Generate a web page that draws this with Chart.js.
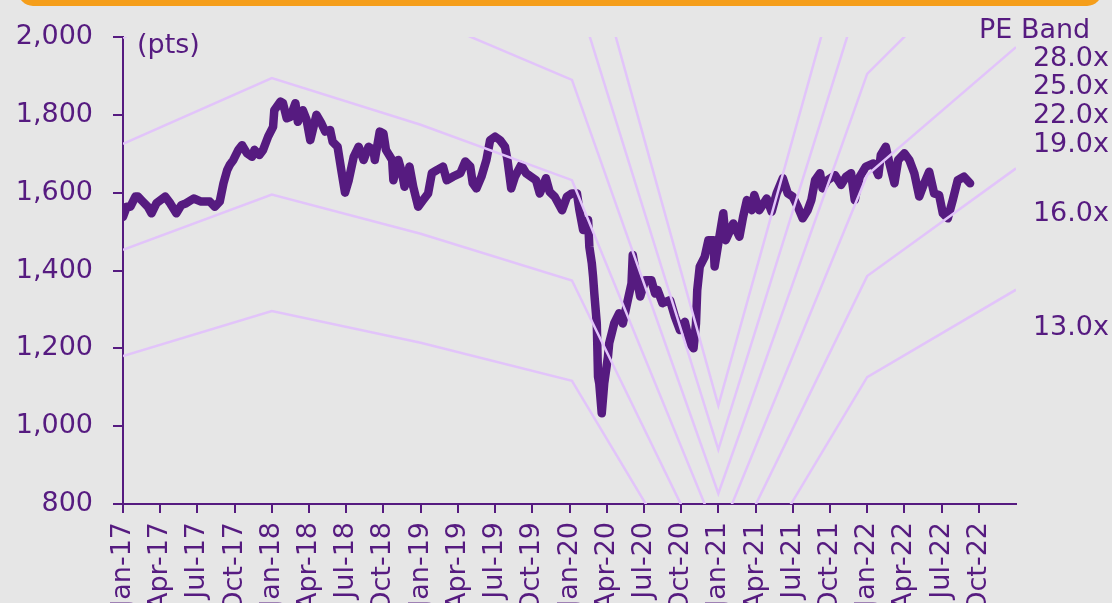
<!DOCTYPE html>
<html>
<head>
<meta charset="utf-8">
<script src="https://cdn.jsdelivr.net/npm/chart.js@4.4.1/dist/chart.umd.min.js"></script>
<style>
  html, body { margin:0; padding:0; background:#e6e6e6; overflow:hidden; }
  #wrap { position:relative; width:1112px; height:603px; overflow:hidden; background:#e6e6e6; }
  #topbar { position:absolute; left:18px; top:-24px; width:1084px; height:30px; background:#f59e1b; border-radius:16px; }
  #chart { position:absolute; left:0; top:0; }
</style>
</head>
<body>
<div id="wrap">
  <div id="topbar"></div>
  <canvas id="chart" width="1112" height="640"></canvas>
</div>
<script>
// x positions are months since Jan-17
const quarterLabels = ['Jan-17','Apr-17','Jul-17','Oct-17','Jan-18','Apr-18','Jul-18','Oct-18',
  'Jan-19','Apr-19','Jul-19','Oct-19','Jan-20','Apr-20','Jul-20','Oct-20',
  'Jan-21','Apr-21','Jul-21','Oct-21','Jan-22','Apr-22','Jul-22','Oct-22'];

const indexMonths = [0.0,0.3,0.6,1.0,1.2,1.6,2.0,2.3,2.7,3.4,3.8,4.3,4.7,5.1,5.7,6.3,7.0,7.4,7.8,8.1,
  8.4,8.6,8.9,9.3,9.6,10.0,10.4,10.6,11.0,11.3,11.7,12.1,12.2,12.7,12.9,13.2,13.5,13.9,14.1,14.5,
  14.8,15.1,15.3,15.6,16.0,16.3,16.7,16.9,17.3,17.6,17.9,18.2,18.6,19.0,19.4,19.8,20.2,20.3,20.7,21.0,
  21.2,21.7,21.8,22.2,22.5,22.7,23.1,23.4,23.8,24.2,24.6,24.9,25.3,25.8,26.1,26.6,27.2,27.6,28.0,28.2,
  28.5,28.9,29.3,29.6,30.0,30.4,30.8,31.0,31.3,31.6,32.1,32.5,32.9,33.3,33.6,34.1,34.4,34.8,35.4,35.8,
  36.2,36.6,36.8,37.1,37.5,37.6,37.8,37.9,38.0,38.2,38.3,38.4,38.6,38.8,39.1,39.2,39.4,39.6,40.0,40.3,
  40.7,41.0,41.1,41.4,41.7,42.1,42.6,42.9,43.1,43.5,44.1,44.5,44.9,45.3,45.7,46.0,46.2,46.3,46.5,46.9,
  47.2,47.6,47.7,48.0,48.4,48.6,49.2,49.7,50.0,50.3,50.7,50.9,51.3,51.9,52.3,52.7,53.2,53.6,54.0,54.4,
  54.8,55.2,55.5,55.8,56.2,56.4,56.8,57.4,57.9,58.3,58.7,59.0,59.4,59.9,60.5,60.9,61.1,61.5,61.8,62.2,
  62.5,63.0,63.4,63.8,64.2,64.6,65.0,65.4,65.8,66.1,66.5,66.9,67.3,67.8,68.3];

const indexValues = [1538,1564,1564,1590,1590,1577,1564,1547,1573,1590,1573,1547,1568,1573,1585,1577,1577,1564,1577,1624,
  1658,1671,1684,1710,1722,1701,1692,1710,1697,1710,1744,1769,1812,1834,1830,1791,1795,1830,1782,1812,
  1787,1735,1761,1800,1778,1757,1761,1731,1718,1658,1600,1632,1692,1718,1684,1718,1710,1684,1757,1752,
  1710,1684,1632,1684,1650,1615,1667,1615,1564,1581,1598,1650,1658,1667,1632,1641,1650,1680,1667,1624,
  1611,1641,1684,1735,1744,1735,1718,1684,1611,1641,1671,1650,1641,1632,1598,1637,1602,1590,1555,1590,
  1598,1598,1555,1504,1530,1461,1418,1384,1341,1264,1127,1110,1033,1110,1178,1213,1238,1264,1290,1264,
  1324,1367,1440,1384,1333,1375,1375,1341,1350,1316,1324,1281,1247,1268,1213,1200,1264,1350,1410,1435,
  1478,1478,1410,1470,1547,1478,1521,1487,1538,1581,1555,1594,1555,1585,1551,1598,1637,1598,1590,1564,
  1534,1555,1581,1632,1650,1611,1632,1645,1620,1641,1650,1581,1641,1667,1675,1645,1697,1718,1675,1624,
  1684,1701,1684,1650,1590,1624,1654,1598,1594,1547,1534,1581,1632,1641,1624];

const epsMonths = [0, 12, 24, 36.2, 48, 60, 72];
const epsValues = [90.8, 99.7, 93.4, 85.9, 37.6, 86.6, 103.9];
const peMultiples = [28, 25, 22, 19, 16, 13];
const peLabels = ['28.0x','25.0x','22.0x','19.0x','16.0x','13.0x'];

const purple = '#561b80';
const bandColor = '#e2c4fa';
const fontFamily = "'DejaVu Sans', Verdana, sans-serif";

const bandSets = peMultiples.map((pe, i) => ({
  label: peLabels[i],
  data: epsMonths.map((m, j) => ({x: m, y: epsValues[j] * pe})),
  borderColor: bandColor,
  borderWidth: 2.5,
  pointRadius: 0,
  tension: 0
}));

const indexSet = {
  label: 'Index',
  data: indexMonths.map((m, i) => ({x: m, y: indexValues[i]})),
  borderColor: purple,
  borderWidth: 8.5,
  borderJoinStyle: 'round',
  borderCapStyle: 'round',
  pointRadius: 0,
  tension: 0
};

// text around the plot: unit, band title and band names
const textPlugin = {
  id: 'texts',
  afterDraw(chart){
    const ctx = chart.ctx;
    ctx.save();
    ctx.fillStyle = purple;
    ctx.font = '27px ' + fontFamily;
    ctx.textBaseline = 'middle';
    ctx.textAlign = 'left';
    ctx.fillText('(pts)', 137, 46);
    ctx.fillText('PE Band', 979, 31);
    ctx.textAlign = 'right';
    const ys = [59, 87, 116, 145, 214, 328];
    peLabels.forEach((l, i) => ctx.fillText(l, 1109, ys[i]));
    ctx.restore();
  }
};

new Chart(document.getElementById('chart').getContext('2d'), {
  type: 'line',
  data: { datasets: [...bandSets, indexSet] },
  options: {
    responsive: false,
    animation: false,
    devicePixelRatio: 1,
    layout: { padding: { top: 37, right: 96, left: 0, bottom: 0 } },
    plugins: { legend: { display: false }, tooltip: { enabled: false } },
    scales: {
      x: {
        type: 'linear',
        min: 0, max: 72,
        afterBuildTicks: s => { s.ticks = quarterLabels.map((l, i) => ({value: i * 3})); },
        afterFit: s => { s.height = 640 - 504; },
        ticks: {
          autoSkip: false, minRotation: 90, maxRotation: 90, padding: 9,
          color: purple, font: { family: fontFamily, size: 27 },
          callback: v => quarterLabels[Math.round(v / 3)]
        },
        grid: { drawOnChartArea: false, tickLength: 9, color: purple, lineWidth: 2 },
        border: { color: purple, width: 2 }
      },
      y: {
        min: 800, max: 2000,
        afterFit: s => { s.width = 123; },
        ticks: {
          stepSize: 200, padding: 20, color: purple,
          font: { family: fontFamily, size: 27 },
          callback: v => v.toLocaleString('en-US')
        },
        grid: { drawOnChartArea: false, tickLength: 10, color: purple, lineWidth: 2 },
        border: { color: purple, width: 2 }
      }
    }
  },
  plugins: [textPlugin]
});
</script>
</body>
</html>
